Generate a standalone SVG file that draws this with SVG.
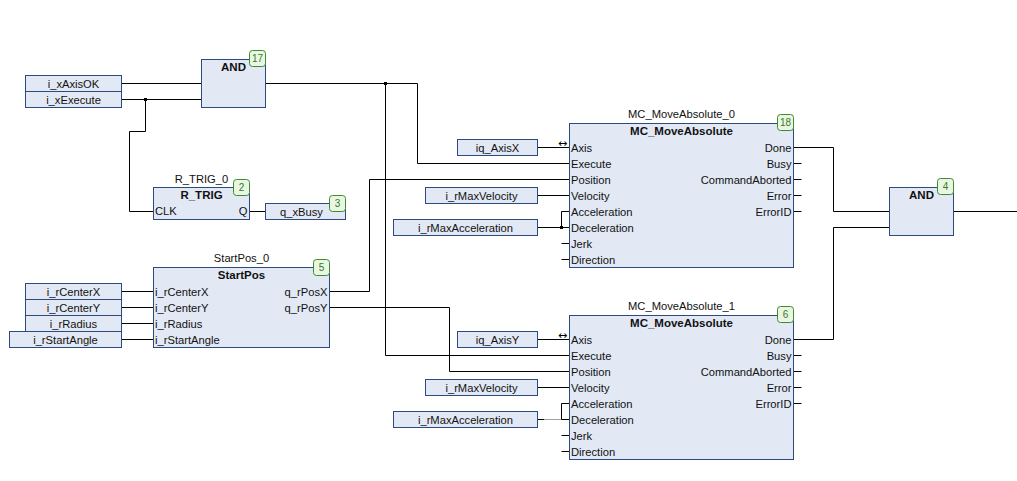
<svg xmlns="http://www.w3.org/2000/svg" width="1017" height="481" viewBox="0 0 1017 481">
<style>
.blk{fill:#E2E9F5;stroke:#2B4A80;stroke-width:1}
.var{fill:#E2E9F5;stroke:#2B4A80;stroke-width:1}
.bdg{fill:#EAF6E4;stroke:#3C8C28;stroke-width:1}
.bt{font-family:"Liberation Sans",Arial,sans-serif;font-size:10px;fill:#3A7A1A;text-anchor:middle}
.t{font-family:"Liberation Sans",Arial,sans-serif;font-size:11.2px;fill:#111}
.c{text-anchor:middle}
.r{text-anchor:end}
.ttl{font-family:"Liberation Sans",Arial,sans-serif;font-size:11.5px;font-weight:bold;fill:#111;text-anchor:middle}
.w{fill:none;stroke:#000;stroke-width:1}
.g{fill:none;stroke:#A0A0A0;stroke-width:1}
.ax{font-family:"DejaVu Sans",sans-serif;font-size:11px;fill:#000}
</style>
<rect width="1017" height="481" fill="#fff"/>
<g id="connectors">
<path class="w" d="M121.5 83.5 H201.5"/>
<path class="w" d="M121.5 99.5 H201.5"/>
<path class="w" d="M145.5 99.5 V131.5 H129.5 V211.5 H153.5"/>
<rect x="144" y="98" width="3" height="3" fill="#000"/>
<path class="w" d="M249.5 211.5 H265.5"/>
<path class="w" d="M121.5 291.5 H153.5 M121.5 307.5 H153.5 M121.5 323.5 H153.5 M121.5 339.5 H153.5"/>
<path class="w" d="M329.5 291.5 H369.5 V179.5 H569.5"/>
<path class="w" d="M329.5 307.5 H449.5 V371.5 H569.5"/>
<path class="w" d="M265.5 83.5 H417.5 V163.5 H569.5"/>
<path class="w" d="M385.5 83.5 V355.5 H569.5"/>
<rect x="384" y="82" width="3" height="3" fill="#000"/>
<path class="w" d="M537.5 147.5 H569.5"/>
<path class="w" d="M537.5 195.5 H569.5"/>
<path class="w" d="M537.5 227.5 H569.5 M561.5 227.5 V211.5 H569.5"/>
<rect x="560" y="226" width="3" height="3" fill="#000"/>
<path class="w" d="M561.5 243.5 H569.5 M561.5 259.5 H569.5"/>
<path class="w" d="M793.5 163.5 H801.5 M793.5 179.5 H801.5 M793.5 195.5 H801.5 M793.5 211.5 H801.5"/>
<path class="w" d="M793.5 147.5 H833.5 V211.5 H889.5"/>
<path class="w" d="M793.5 339.5 H833.5 V227.5 H889.5"/>
<path class="w" d="M953.5 211.5 H1017"/>
<path class="w" d="M537.5 339.5 H569.5"/>
<path class="w" d="M537.5 387.5 H569.5"/>
<path class="w" d="M537.5 419.5 H544.5"/>
<path class="g" d="M544.5 419.5 H561.5"/>
<path class="w" d="M561.5 403.5 V419.5 H569.5 M561.5 403.5 H569.5"/>
<path class="w" d="M561.5 435.5 H569.5 M561.5 451.5 H569.5"/>
<path class="w" d="M793.5 355.5 H801.5 M793.5 371.5 H801.5 M793.5 387.5 H801.5 M793.5 403.5 H801.5"/>
</g>
<g id="in_xAxisOK"><rect class="var" x="25.5" y="75.5" width="96" height="16"/><text class="t c" x="73.5" y="87.5">i_xAxisOK</text></g>
<g id="in_xExecute"><rect class="var" x="25.5" y="91.5" width="96" height="16"/><text class="t c" x="73.5" y="103.5">i_xExecute</text></g>
<g id="and17">
<rect class="blk" x="201.5" y="59.5" width="64" height="48"/>
<text class="ttl" x="233.5" y="71">AND</text>
<rect class="bdg" x="249.5" y="50.5" width="16" height="16" rx="3"/><text class="bt" x="257.5" y="62">17</text>
</g>
<g id="rtrig">
<text class="t c" x="201.5" y="183">R_TRIG_0</text>
<rect class="blk" x="153.5" y="187.5" width="96" height="32"/>
<text class="ttl" x="201.5" y="199">R_TRIG</text>
<text class="t" x="155" y="215">CLK</text>
<text class="t r" x="247.5" y="215">Q</text>
<rect class="bdg" x="233.5" y="179.5" width="16" height="16" rx="3"/><text class="bt" x="241.5" y="191">2</text>
</g>
<g id="out_xBusy">
<rect class="var" x="265.5" y="203.5" width="80" height="16"/><text class="t c" x="301.5" y="215.5">q_xBusy</text>
<rect class="bdg" x="329.5" y="195.5" width="16" height="16" rx="3"/><text class="bt" x="337.5" y="207">3</text>
</g>
<g id="startpos">
<text class="t c" x="241.5" y="262">StartPos_0</text>
<rect class="blk" x="153.5" y="267.5" width="176" height="80"/>
<text class="ttl" x="241.5" y="279">StartPos</text>
<text class="t" x="155" y="295.5">i_rCenterX</text>
<text class="t" x="155" y="311.5">i_rCenterY</text>
<text class="t" x="155" y="327.5">i_rRadius</text>
<text class="t" x="155" y="343.5">i_rStartAngle</text>
<text class="t r" x="327.5" y="295.5">q_rPosX</text>
<text class="t r" x="327.5" y="311.5">q_rPosY</text>
<rect class="bdg" x="313.5" y="259.5" width="16" height="16" rx="3"/><text class="bt" x="321.5" y="271">5</text>
</g>
<g id="in_rCenterX"><rect class="var" x="25.5" y="283.5" width="96" height="16"/><text class="t c" x="73.5" y="295.5">i_rCenterX</text></g>
<g id="in_rCenterY"><rect class="var" x="25.5" y="299.5" width="96" height="16"/><text class="t c" x="73.5" y="311.5">i_rCenterY</text></g>
<g id="in_rRadius"><rect class="var" x="25.5" y="315.5" width="96" height="16"/><text class="t c" x="73.5" y="327.5">i_rRadius</text></g>
<g id="in_rStartAngle"><rect class="var" x="9.5" y="331.5" width="112" height="16"/><text class="t c" x="65.5" y="343.5">i_rStartAngle</text></g>
<g id="in_AxisX"><rect class="var" x="457.5" y="139.5" width="80" height="16"/><text class="t c" x="497.5" y="151.5">iq_AxisX</text></g>
<g id="in_MaxVel0"><rect class="var" x="425.5" y="187.5" width="112" height="16"/><text class="t c" x="481.5" y="199.5">i_rMaxVelocity</text></g>
<g id="in_MaxAcc0"><rect class="var" x="393.5" y="219.5" width="144" height="16"/><text class="t c" x="465.5" y="231.5">i_rMaxAcceleration</text></g>
<g id="mc0">
<text class="t c" x="681.5" y="118">MC_MoveAbsolute_0</text>
<rect class="blk" x="569.5" y="123.5" width="224" height="144"/>
<text class="ttl" x="681.5" y="135">MC_MoveAbsolute</text>
<text class="ax" x="558" y="147">↔</text>
<text class="t" x="571" y="151.5">Axis</text>
<text class="t" x="571" y="167.5">Execute</text>
<text class="t" x="571" y="183.5">Position</text>
<text class="t" x="571" y="199.5">Velocity</text>
<text class="t" x="571" y="215.5">Acceleration</text>
<text class="t" x="571" y="231.5">Deceleration</text>
<text class="t" x="571" y="247.5">Jerk</text>
<text class="t" x="571" y="263.5">Direction</text>
<text class="t r" x="791.5" y="151.5">Done</text>
<text class="t r" x="791.5" y="167.5">Busy</text>
<text class="t r" x="791.5" y="183.5">CommandAborted</text>
<text class="t r" x="791.5" y="199.5">Error</text>
<text class="t r" x="791.5" y="215.5">ErrorID</text>
<rect class="bdg" x="777.5" y="114.5" width="16" height="16" rx="3"/><text class="bt" x="785.5" y="126">18</text>
</g>
<g id="in_AxisY"><rect class="var" x="457.5" y="331.5" width="80" height="16"/><text class="t c" x="497.5" y="343.5">iq_AxisY</text></g>
<g id="in_MaxVel1"><rect class="var" x="425.5" y="379.5" width="112" height="16"/><text class="t c" x="481.5" y="391.5">i_rMaxVelocity</text></g>
<g id="in_MaxAcc1"><rect class="var" x="393.5" y="411.5" width="144" height="16"/><text class="t c" x="465.5" y="423.5">i_rMaxAcceleration</text></g>
<g id="mc1">
<text class="t c" x="681.5" y="310">MC_MoveAbsolute_1</text>
<rect class="blk" x="569.5" y="315.5" width="224" height="144"/>
<text class="ttl" x="681.5" y="327">MC_MoveAbsolute</text>
<text class="ax" x="558" y="339">↔</text>
<text class="t" x="571" y="343.5">Axis</text>
<text class="t" x="571" y="359.5">Execute</text>
<text class="t" x="571" y="375.5">Position</text>
<text class="t" x="571" y="391.5">Velocity</text>
<text class="t" x="571" y="407.5">Acceleration</text>
<text class="t" x="571" y="423.5">Deceleration</text>
<text class="t" x="571" y="439.5">Jerk</text>
<text class="t" x="571" y="455.5">Direction</text>
<text class="t r" x="791.5" y="343.5">Done</text>
<text class="t r" x="791.5" y="359.5">Busy</text>
<text class="t r" x="791.5" y="375.5">CommandAborted</text>
<text class="t r" x="791.5" y="391.5">Error</text>
<text class="t r" x="791.5" y="407.5">ErrorID</text>
<rect class="bdg" x="777.5" y="306.5" width="16" height="16" rx="3"/><text class="bt" x="785.5" y="318">6</text>
</g>
<g id="and4">
<rect class="blk" x="889.5" y="187.5" width="64" height="48"/>
<text class="ttl" x="921.5" y="199">AND</text>
<rect class="bdg" x="937.5" y="178.5" width="16" height="16" rx="3"/><text class="bt" x="945.5" y="190">4</text>
</g>
</svg>
